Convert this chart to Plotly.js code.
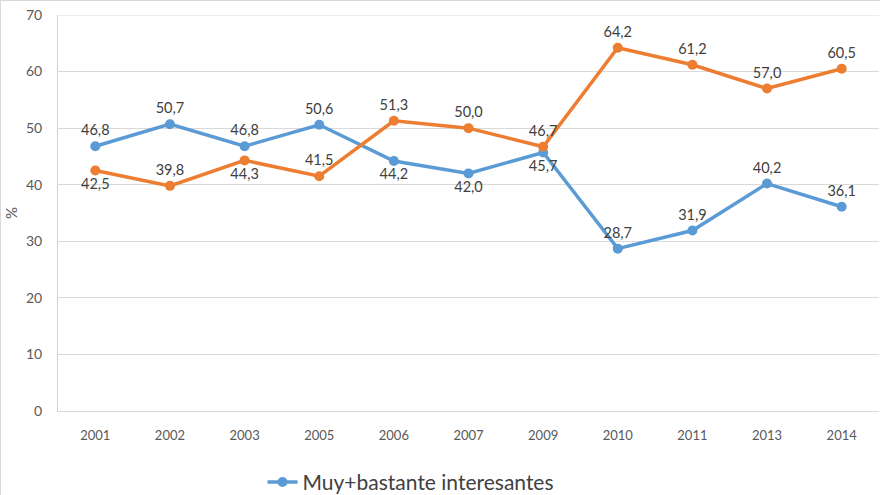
<!DOCTYPE html>
<html>
<head>
<meta charset="utf-8">
<script src="https://cdn.plot.ly/plotly-3.0.1.min.js"></script>
<style>
html,body{margin:0;padding:0;background:#fff;}
#chart{width:880px;height:495px;box-sizing:border-box;border:1px solid #d9d9d9;border-bottom:none;}
</style>
</head>
<body>
<div id="chart"></div>
<script>
const years = ["2001","2002","2003","2005","2006","2007","2009","2010","2011","2013","2014"];
const interesantes = [46.8, 50.7, 46.8, 50.6, 44.2, 42.0, 45.7, 28.7, 31.9, 40.2, 36.1];
const otros = [42.5, 39.8, 44.3, 41.5, 51.3, 50.0, 46.7, 64.2, 61.2, 57.0, 60.5];
const blueLabelPos = ["top center","top center","top center","top center","bottom center","bottom center","bottom center","top center","top center","top center","top center"];
const orangeLabelPos = ["bottom center","top center","bottom center","top center","top center","top center","top center","top center","top center","top center","top center"];
const seriesNames = ["Muy+bastante interesantes", "Poco+nada interesantes"];
const yTicks = [0,10,20,30,40,50,60,70];

const fmt = v => v.toFixed(1).replace('.', ',');
const labelFont = {family: "Lato, 'Open Sans', sans-serif", size: 14.5, color: "#404040"};

const traces = [
  {
    x: years, y: interesantes, name: seriesNames[0], type: "scatter", mode: "lines+markers+text",
    line: {color: "#5B9BD5", width: 3.5}, marker: {color: "#5B9BD5", size: 10},
    text: interesantes.map(fmt), textposition: blueLabelPos, textfont: labelFont,
    cliponaxis: false
  },
  {
    x: years, y: otros, name: seriesNames[1], type: "scatter", mode: "lines+markers+text",
    line: {color: "#ED7D31", width: 3.5}, marker: {color: "#ED7D31", size: 10},
    text: otros.map(fmt), textposition: orangeLabelPos, textfont: labelFont,
    showlegend: false, cliponaxis: false
  }
];

const layout = {
  width: 880, height: 495,
  margin: {l: 57, r: 2, t: 14, b: 85, autoexpand: false},
  paper_bgcolor: "#fff", plot_bgcolor: "#fff",
  font: {family: "Lato, 'Open Sans', sans-serif", color: "#595959"},
  xaxis: {
    type: "category", range: [-0.5, 10.5], showgrid: false,
    showline: true, linecolor: "#d9d9d9", linewidth: 1,
    ticks: "", tickfont: {size: 13, color: "#595959"}, ticklabelstandoff: 12,
    fixedrange: true
  },
  yaxis: {
    range: [0, 70], tickvals: yTicks, ticktext: yTicks.map(String),
    showgrid: true, gridcolor: "#d9d9d9", gridwidth: 1,
    showline: true, linecolor: "#c9d3de", linewidth: 1, zeroline: false,
    ticks: "", tickfont: {size: 14, color: "#595959"}, ticklabelstandoff: 12,
    title: {text: "%", font: {size: 15, color: "#595959"}, standoff: 4},
    fixedrange: true
  },
  showlegend: true,
  legend: {
    orientation: "h", x: 0.43, xanchor: "center", y: -0.18, yanchor: "middle",
    font: {size: 21, color: "#404040"}, bgcolor: "rgba(0,0,0,0)"
  },
  shapes: [
    {type: "line", xref: "paper", yref: "y", x0: 0, x1: 1, y0: 70, y1: 70, line: {color: "#d9d9d9", width: 1}}
  ]
};

Plotly.newPlot("chart", traces, layout, {displayModeBar: false, staticPlot: true});
</script>
</body>
</html>
